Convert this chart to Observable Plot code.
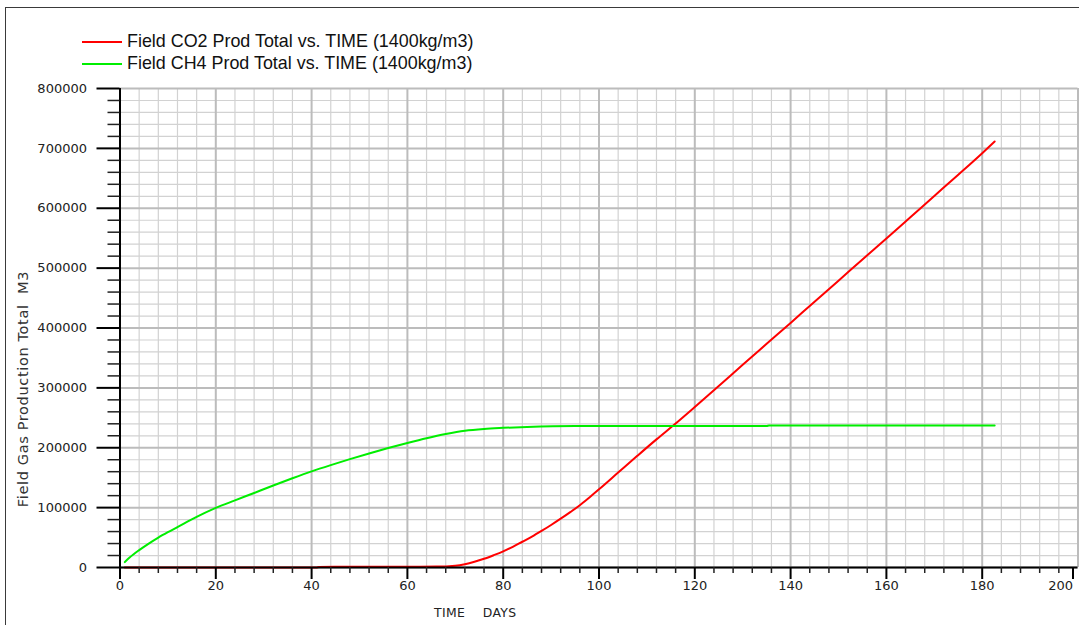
<!DOCTYPE html>
<html>
<head>
<meta charset="utf-8">
<script src="https://cdn.jsdelivr.net/npm/d3@7"></script>
<script src="https://cdn.jsdelivr.net/npm/@observablehq/plot@0.6"></script>
<style>
  html, body { margin: 0; padding: 0; background: #fff; }
  #wrap { position: relative; width: 1079px; height: 625px; overflow: hidden; }
  #frame { position: absolute; left: 5px; top: 7px; width: 1100px; height: 700px;
           border-left: 1.5px solid #3a3a3a; border-top: 1.5px solid #3a3a3a; }
  #chart { position: absolute; left: 0; top: 0; }
  .leg { position: absolute; left: 82px; font-family: "Liberation Sans", Arial, sans-serif;
         font-size: 17.9px; color: #111; white-space: nowrap; display: flex; align-items: center; }
  .leg .sw { display: inline-block; width: 40px; height: 2px; margin-right: 5px; }
  #xtitle { position: absolute; left: 434px; top: 605px; font-family: "DejaVu Sans", sans-serif;
            font-size: 12.4px; letter-spacing: 0.4px; color: #222; white-space: pre; }
  #ytitle { position: absolute; left: 22px; top: 389px; font-family: "DejaVu Sans", sans-serif;
            font-size: 14.6px; letter-spacing: 0.6px; color: #333; white-space: pre;
            transform: translate(-50%, -50%) rotate(-90deg); }
</style>
</head>
<body>
<div id="wrap">
  <div id="frame"></div>
  <div id="chart"></div>
  <div class="leg" style="top:31px"><span class="sw" style="background:#ff0000"></span><span id="leg1"></span></div>
  <div class="leg" style="top:53px"><span class="sw" style="background:#00ee00"></span><span id="leg2"></span></div>
  <div id="xtitle"></div>
  <div id="ytitle"></div>
</div>
<script>
// ---- data ----
const seriesNames = ["Field CO2 Prod Total vs. TIME (1400kg/m3)", "Field CH4 Prod Total vs. TIME (1400kg/m3)"];
const seriesColors = ["#ff0000", "#00ee00"];
const xTitle = "TIME    DAYS";
const yTitle = "Field Gas Production Total  M3";

const xMajorTicks = [0, 20, 40, 60, 80, 100, 120, 140, 160, 180, 200];
const yMajorTicks = [0, 100000, 200000, 300000, 400000, 500000, 600000, 700000, 800000];

// CO2 cumulative production (days, m3)
const co2Days = [1, 41, 41.5, 66, 70, 72, 74, 76, 78, 80, 82, 84, 86, 88, 90, 92, 94, 96, 98, 100,
                 104, 108, 112, 116, 120, 125, 130, 135, 140, 145, 150, 155, 160, 165, 170, 175, 180, 182.6];
const co2Vals = [0, 0, 1000, 1500, 3000, 5500, 9500, 14500, 20500, 27000, 34500, 43000, 51500, 61000, 71000, 81500, 92500, 104000, 117000, 130500,
                 158500, 186500, 214000, 240500, 268000, 303000, 338500, 373500, 408500, 444000, 479000, 514500, 549500, 585000, 620500, 656000, 692000, 711500];

// CH4 cumulative production (days, m3)
const ch4Days = [1, 2, 4, 6, 8, 10, 12, 16, 20, 24, 28, 32, 36, 40, 44, 48, 52, 56, 60, 64, 68, 72, 76, 80, 85, 95, 135, 135.5, 182.6];
const ch4Vals = [9000, 16500, 29000, 40000, 50000, 59000, 67500, 84500, 99500, 112000, 124500, 137000, 149000, 160500, 171000, 181000, 190500, 199500, 208000, 216000, 223000, 228500, 231500, 233200, 234800, 236300, 236300, 237300, 237300];

// ---- build ----
const co2 = co2Days.map((t, i) => ({t, v: co2Vals[i]}));
const ch4 = ch4Days.map((t, i) => ({t, v: ch4Vals[i]}));
const xMinor = d3.range(0, 201, 4).filter(d => d % 20 !== 0);
const yMinor = d3.range(0, 800001, 20000).filter(d => d % 100000 !== 0);

document.getElementById("leg1").textContent = seriesNames[0];
document.getElementById("leg2").textContent = seriesNames[1];
document.getElementById("xtitle").textContent = xTitle;
document.getElementById("ytitle").textContent = yTitle;

const fmt = d => String(d);

const chart = Plot.plot({
  width: 1079,
  height: 625,
  marginLeft: 119.5,
  marginRight: 1.5,
  marginTop: 88,
  marginBottom: 58,
  x: {domain: [0, 200], label: null},
  y: {domain: [0, 800000], label: null},
  style: {background: "transparent", fontFamily: "DejaVu Sans, sans-serif", fontSize: "13px", color: "#222", overflow: "visible"},
  marks: [
    Plot.gridX(xMinor, {stroke: "#d2d2d2", strokeOpacity: 1, strokeWidth: 1.2}),
    Plot.gridY(yMinor, {stroke: "#d2d2d2", strokeOpacity: 1, strokeWidth: 1.2}),
    Plot.gridX(xMajorTicks, {stroke: "#bcbcbc", strokeOpacity: 1, strokeWidth: 2}),
    Plot.gridY(yMajorTicks, {stroke: "#bcbcbc", strokeOpacity: 1, strokeWidth: 2}),
    Plot.line(co2, {x: "t", y: "v", stroke: seriesColors[0], strokeWidth: 2, curve: "monotone-x"}),
    Plot.line(ch4, {x: "t", y: "v", stroke: seriesColors[1], strokeWidth: 2, curve: "monotone-x"}),
    Plot.ruleY([0], {stroke: "#000", strokeWidth: 2}),
    Plot.ruleX([0], {stroke: "#000", strokeWidth: 2}),
    Plot.axisY(yMinor, {tickSize: 12, tickFormat: () => "", stroke: "#222", strokeWidth: 1.5, label: null}),
    Plot.axisY(yMajorTicks, {tickSize: 23, tickPadding: 10, tickFormat: fmt, stroke: "#000", strokeWidth: 2, fill: "#222", label: null}),
    Plot.axisX(xMinor, {tickSize: 6, tickFormat: () => "", stroke: "#222", strokeWidth: 1.5, label: null}),
    Plot.axisX(xMajorTicks.slice(0, -1), {tickSize: 12, tickPadding: 1, tickFormat: fmt, stroke: "#000", strokeWidth: 2, fill: "#222", label: null}),
    Plot.axisX(xMajorTicks.slice(-1), {tickSize: 12, tickPadding: 1, tickFormat: fmt, textAnchor: "end", dx: -5, stroke: "#000", strokeWidth: 2, fill: "#222", label: null})
  ]
});
document.getElementById("chart").appendChild(chart);
</script>
</body>
</html>
